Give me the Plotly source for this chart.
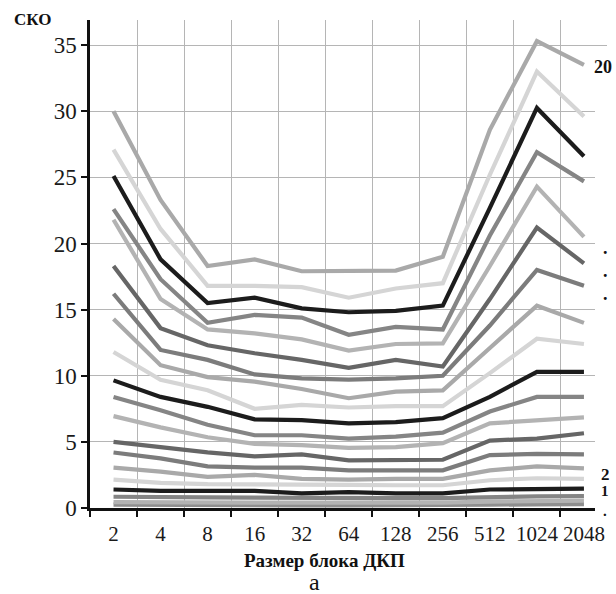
import plotly.graph_objects as go

# Block sizes of the DCT (x categories)
block_sizes = ["2", "4", "8", "16", "32", "64", "128", "256", "512", "1024", "2048"]

# RMS error curves, series 1 (bottom) to 20 (top)
s1 = [0.25, 0.22, 0.22, 0.22, 0.2, 0.2, 0.2, 0.2, 0.25, 0.28, 0.3]
s2 = [0.45, 0.42, 0.42, 0.42, 0.4, 0.4, 0.4, 0.4, 0.48, 0.52, 0.55]
s3 = [0.85, 0.8, 0.8, 0.78, 0.75, 0.75, 0.75, 0.75, 0.85, 0.88, 0.9]
s4 = [1.4, 1.3, 1.3, 1.3, 1.1, 1.2, 1.1, 1.1, 1.4, 1.42, 1.47]
s5 = [2.15, 1.9, 1.8, 1.8, 1.75, 1.75, 1.72, 1.72, 2.1, 2.25, 2.2]
s6 = [3.05, 2.75, 2.35, 2.5, 2.2, 2.15, 2.2, 2.2, 2.85, 3.15, 3.0]
s7 = [4.2, 3.75, 3.15, 3.05, 3.05, 2.85, 2.85, 2.85, 4.0, 4.1, 4.05]
s8 = [5.0, 4.6, 4.2, 3.9, 4.05, 3.6, 3.65, 3.65, 5.1, 5.25, 5.65]
s9 = [6.95, 6.1, 5.35, 4.85, 4.75, 4.55, 4.6, 4.9, 6.4, 6.65, 6.85]
s10 = [8.4, 7.4, 6.3, 5.5, 5.5, 5.25, 5.4, 5.7, 7.3, 8.4, 8.4]
s11 = [9.65, 8.4, 7.65, 6.7, 6.65, 6.4, 6.5, 6.8, 8.4, 10.3, 10.3]
s12 = [11.8, 9.7, 8.9, 7.5, 7.8, 7.6, 7.7, 7.7, 10.2, 12.8, 12.4]
s13 = [14.3, 10.8, 9.9, 9.55, 9.0, 8.3, 8.8, 8.9, 12.1, 15.3, 14.0]
s14 = [16.2, 11.95, 11.2, 10.1, 9.8, 9.7, 9.8, 10.0, 13.8, 18.0, 16.8]
s15 = [18.3, 13.6, 12.3, 11.7, 11.2, 10.6, 11.2, 10.7, 15.8, 21.2, 18.5]
s16 = [21.8, 15.8, 13.5, 13.2, 12.75, 11.9, 12.4, 12.45, 18.3, 24.3, 20.5]
s17 = [22.6, 17.3, 14.0, 14.6, 14.4, 13.1, 13.7, 13.5, 20.6, 26.9, 24.7]
s18 = [25.1, 18.8, 15.5, 15.9, 15.1, 14.8, 14.9, 15.3, 22.7, 30.25, 26.6]
s19 = [27.1, 21.1, 16.8, 16.8, 16.7, 15.9, 16.6, 17.0, 25.2, 33.0, 29.6]
s20 = [30.0, 23.3, 18.3, 18.8, 17.9, 17.9, 17.95, 19.0, 28.6, 35.3, 33.5]

series = [s1, s2, s3, s4, s5, s6, s7, s8, s9, s10,
          s11, s12, s13, s14, s15, s16, s17, s18, s19, s20]

# grey shades repeat with a period of seven curves
shade_cycle = ["#8e8e8e", "#b3b3b3", "#858585", "#1c1c1c", "#d5d5d5", "#a9a9a9", "#7c7c7c"]
shade_cycle_upper = {8: "#666666", 15: "#666666"}

fig = go.Figure()
for i, ys in enumerate(series):
    n = i + 1
    color = shade_cycle_upper.get(n, shade_cycle[i % 7])
    fig.add_trace(go.Scatter(
        x=block_sizes, y=ys, mode="lines", name=str(n),
        line=dict(color=color, width=4.2),
        showlegend=False, hoverinfo="x+y+name",
    ))

W, H = 616, 594
L, R, T, B = 90, 9, 20, 86
YMAX = 36.9


def px_x(px):
    return (px - L) / (W - L - R)


def px_y(py):
    return (H - B - py) / (H - T - B)


serif = "Liberation Serif"

fig.update_layout(
    width=W, height=H,
    margin=dict(l=L, r=R, t=T, b=B),
    paper_bgcolor="white", plot_bgcolor="white",
    font=dict(family=serif, color="#1a1a1a"),
    xaxis=dict(
        type="category", categoryorder="array", categoryarray=block_sizes,
        range=[-0.5, 10.49], tickson="boundaries",
        ticks="outside", ticklen=6, tickwidth=2, tickcolor="#111",
        showgrid=True, gridcolor="#b5b5b5", gridwidth=1.3,
        showline=True, linecolor="#111", linewidth=2.5,
        tickfont=dict(family=serif, size=21, color="#1a1a1a"),
        tickangle=0, ticklabelstandoff=5,
        zeroline=False, fixedrange=True,
    ),
    yaxis=dict(
        range=[0, YMAX], tickmode="array", tickvals=[0, 5, 10, 15, 20, 25, 30, 35],
        ticks="outside", ticklen=6, tickwidth=2, tickcolor="#111",
        showgrid=True, gridcolor="#b5b5b5", gridwidth=1.3,
        showline=True, linecolor="#111", linewidth=2.5,
        tickfont=dict(family=serif, size=23, color="#1a1a1a"),
        zeroline=False, fixedrange=True,
    ),
)

# white label strip on the right edge
fig.add_shape(type="rect", xref="paper", yref="paper",
              x0=px_x(595), x1=px_x(620), y0=px_y(518), y1=px_y(52),
              fillcolor="white", line=dict(width=0), layer="above")

bold = dict(family=serif, size=18, color="#111")
marks = [("<b>20</b>", 603, 67, 18), ("<b>.</b>", 605, 248, 18), ("<b>.</b>", 605, 271, 18),
         ("<b>.</b>", 605, 294, 18), ("<b>2</b>", 605, 474, 17), ("<b>1<br>.</b>", 605, 501, 15)]
for txt, xx, yy, sz in marks:
    fig.add_annotation(text=txt, xref="paper", yref="paper", x=px_x(xx), y=px_y(yy),
                       showarrow=False, font=dict(family=serif, size=sz, color="#111"),
                       xanchor="center", yanchor="middle")

fig.add_annotation(text="<b>СКО</b>", xref="paper", yref="paper",
                   x=px_x(32), y=px_y(19), showarrow=False,
                   font=dict(family=serif, size=17, color="#111"),
                   xanchor="center", yanchor="middle")
fig.add_annotation(text="<b>Размер блока ДКП</b>", xref="paper", yref="paper",
                   x=px_x(324), y=px_y(560), showarrow=False,
                   font=dict(family=serif, size=19, color="#111"),
                   xanchor="center", yanchor="middle")
fig.add_annotation(text="а", xref="paper", yref="paper",
                   x=px_x(314), y=px_y(582), showarrow=False,
                   font=dict(family=serif, size=24, color="#111"),
                   xanchor="center", yanchor="middle")

fig.write_html("out.html")
